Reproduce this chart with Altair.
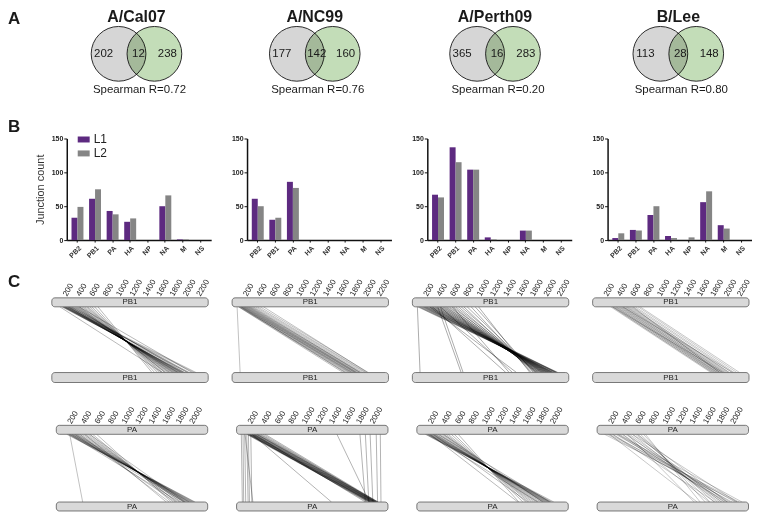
import altair as alt
import pandas as pd

FONT = "Liberation Sans"
PURPLE = "#5d2a80"
GRAY = "#858585"

# ---------------- Panel A: Venn data ----------------
STRAINS = ["A/Cal07", "A/NC99", "A/Perth09", "B/Lee"]
ONLY_L1 = [202, 177, 365, 113]
SHARED = [12, 142, 16, 28]
ONLY_L2 = [238, 160, 283, 148]
SPEARMAN = ["0.72", "0.76", "0.20", "0.80"]

# ---------------- Panel B: junction counts ----------------
SEGMENTS = ["PB2", "PB1", "PA", "HA", "NP", "NA", "M", "NS"]
L1_CAL07 = [33, 61, 43, 27, 0, 50, 1, 0]
L2_CAL07 = [49, 75, 38, 32, 0, 66, 1, 0]
L1_NC99 = [61, 30, 86, 0, 0, 0, 0, 0]
L2_NC99 = [50, 33, 77, 0, 0, 0, 0, 0]
L1_PERTH09 = [67, 137, 104, 4, 0, 14, 0, 0]
L2_PERTH09 = [63, 115, 104, 1, 0, 14, 0, 0]
L1_LEE = [3, 15, 37, 6, 0, 56, 22, 0]
L2_LEE = [10, 14, 50, 3, 4, 72, 17, 0]
L1_COUNTS = [L1_CAL07, L1_NC99, L1_PERTH09, L1_LEE]
L2_COUNTS = [L2_CAL07, L2_NC99, L2_PERTH09, L2_LEE]

# ---------------- Panel C: junction 5'/3' positions (nt) ----------------
PB1_LEN = 2341
PA_LEN = 2233
PB1_TICKS = [200, 400, 600, 800, 1000, 1200, 1400, 1600, 1800, 2000, 2200]
PA_TICKS = [200, 400, 600, 800, 1000, 1200, 1400, 1600, 1800, 2000]

CAL07_PB1_5 = [150, 165, 170, 180, 190, 195, 205, 210, 225, 232, 240, 250, 255, 268, 275, 290, 300, 312,
               330, 345, 360, 375, 390, 405, 420, 450, 470, 495, 520, 540, 570, 600, 640, 690, 120, 410]
CAL07_PB1_3 = [2040, 1985, 2130, 1968, 1960, 2160, 1945, 1940, 1925, 2060, 1910, 1895, 1880, 1890, 2030, 1865, 1850, 1990,
               1835, 1820, 1810, 1790, 1760, 1770, 1740, 1715, 1700, 1690, 1660, 1640, 1610, 1580, 1540, 1500, 1655, 2100]
NC99_PB1_5 = [100, 110, 120, 135, 140, 150, 160, 170, 180, 190, 200, 215, 225, 240, 250, 265, 280, 300,
              320, 350, 380, 420, 470, 75, 95, 130]
NC99_PB1_3 = [1700, 1745, 1720, 1760, 1790, 1775, 1810, 1800, 1840, 1830, 1860, 1850, 1880, 1870, 1900, 1915, 1935, 1920,
              1960, 1990, 2010, 2040, 2030, 120, 1660, 1690]
PERTH09_PB1_5 = [80, 100, 120, 140, 160, 175, 190, 205, 220, 240, 255, 270, 285, 300, 320, 335, 350, 370, 390, 410,
                 430, 450, 470, 490, 510, 535, 560, 590, 620, 650, 690, 730, 770, 820, 880, 940, 990, 300, 420, 600,
                 75, 380, 420, 260]
PERTH09_PB1_3 = [2150, 2170, 2120, 2180, 2100, 2140, 2080, 2160, 2060, 2110, 2040, 2090, 2020, 2070, 2000, 2050, 1980, 2030,
                 1960, 2010, 1940, 1990, 1920, 1970, 1900, 1950, 1880, 1930, 1860, 1900, 1840, 1870, 1810, 1850, 1780,
                 1820, 1760, 1400, 1500, 1450, 115, 730, 760, 1560]
LEE_PB1_5 = [270, 290, 300, 320, 335, 350, 360, 380, 395, 410, 425, 440, 455, 470, 490, 505, 520, 540, 560, 580,
             610, 640, 680, 710, 300, 450, 600]
LEE_PB1_3 = [1770, 1800, 1790, 1830, 1820, 1860, 1845, 1880, 1870, 1900, 1920, 1910, 1950, 1940, 1980, 1970, 2000, 2020,
             2050, 2040, 2090, 2120, 2160, 2200, 1950, 2100, 1900]

CAL07_PA_5 = [154, 169, 184, 198, 213, 228, 242, 257, 272, 286, 301, 316, 345, 375, 404, 433, 463, 492, 536, 595,
              198, 272, 345, 419, 228, 492, 198]
CAL07_PA_3 = [2049, 2020, 2035, 1991, 2005, 1961, 1976, 1946, 1932, 1961, 1902, 1917, 1888, 1873, 1844, 1829, 1785, 1770,
              1726, 1697, 1814, 1755, 1667, 1623, 1888, 1902, 389]
NC99_PA_5 = [150, 160, 170, 180, 190, 200, 210, 220, 230, 240, 250, 260, 275, 290, 300, 320, 340, 360, 390, 420,
             180, 200, 230, 260, 300, 70, 95, 120, 150, 175, 210, 125, 1820, 1900, 1970, 2060, 2120, 1480, 230]
NC99_PA_3 = [1960, 1985, 1975, 2000, 1990, 2010, 2000, 2025, 2015, 2035, 2030, 2045, 2040, 2055, 2050, 2065, 2060, 2075,
             2070, 2085, 1950, 1930, 1970, 1900, 2090, 85, 105, 135, 170, 190, 225, 240, 1900, 1950, 2010, 2080, 2130,
             1960, 1400]
PERTH09_PA_5 = [125, 140, 154, 169, 184, 198, 213, 228, 242, 257, 272, 286, 316, 345, 375, 404, 433, 463, 507, 551,
                610, 169, 242, 316, 389, 198]
PERTH09_PA_3 = [2020, 1976, 1991, 1946, 1961, 1917, 1932, 1888, 1902, 1858, 1873, 1829, 1799, 1770, 1741, 1711, 1682,
                1653, 1608, 1564, 1505, 1785, 1638, 1961, 1858, 1491]
LEE_PA_5 = [110, 154, 184, 228, 272, 301, 331, 375, 419, 448, 477, 521, 566, 595, 639, 683, 712, 375, 228, 521,
            184, 595, 301, 448]
LEE_PA_3 = [2064, 1990, 2093, 1917, 2035, 1888, 1961, 1844, 1932, 1800, 1873, 1770, 1829, 1726, 1667, 1594, 1520, 1653,
            1741, 2064, 1476, 1917, 2137, 1432]

PB1_JUNCTIONS = [(CAL07_PB1_5, CAL07_PB1_3), (NC99_PB1_5, NC99_PB1_3),
                 (PERTH09_PB1_5, PERTH09_PB1_3), (LEE_PB1_5, LEE_PB1_3)]
PA_JUNCTIONS = [(CAL07_PA_5, CAL07_PA_3), (NC99_PA_5, NC99_PA_3),
                (PERTH09_PA_5, PERTH09_PA_3), (LEE_PA_5, LEE_PA_3)]

# ---------------- layout / style (pixels) ----------------
W = 145
COL_GAP = 36
ROW_GAP = 43
H_VENN, H_BAR, H_PB1, H_PA = 87, 102, 100, 86
VENN_CX = [70, 68, 68, 71]
VENN_CY = 45
R = 31
GAP = 36
LETTER_X = -59
PB1_DOMAIN = [223.7, 2385.8]
PA_DOMAIN = [154.3, 2284.5]
PB1_OPACITY = [0.5, 0.45, 0.6, 0.4]
PA_OPACITY = [0.45, 0.55, 0.5, 0.4]


def one_row():
    return alt.Chart(pd.DataFrame({"k": [0]}))


def text_at(s, x, y, size, weight="normal", align="center", baseline="middle"):
    return one_row().mark_text(text=s, fontSize=size, fontWeight=weight, align=align,
                               baseline=baseline, color="#1a1a1a").encode(
        x=alt.value(x), y=alt.value(y))


def letter(s, y):
    return text_at(s, LETTER_X, y, 17, weight="bold", align="left")


def venn_cell(i):
    cx = VENN_CX[i]
    area = 3.14159 * R * R
    gray = one_row().mark_circle(size=area, fill="#d6d6d6", fillOpacity=1, opacity=1,
                                 stroke="#2b2b2b", strokeWidth=1, blend="multiply").encode(
        x=alt.value(cx - GAP / 2), y=alt.value(VENN_CY))
    green = one_row().mark_circle(size=area, fill="#c3ddb8", fillOpacity=1, opacity=1,
                                  stroke="#2b2b2b", strokeWidth=1, blend="multiply").encode(
        x=alt.value(cx + GAP / 2), y=alt.value(VENN_CY))
    layers = [gray, green,
              text_at(STRAINS[i], cx, 13, 16, weight="bold", baseline="alphabetic"),
              text_at(str(ONLY_L1[i]), cx - 33, VENN_CY, 11.5),
              text_at(str(SHARED[i]), cx + 2, VENN_CY, 11.5),
              text_at(str(ONLY_L2[i]), cx + 31, VENN_CY, 11.5),
              text_at("Spearman R=" + SPEARMAN[i], cx + 3, 81, 11.5)]
    if i == 0:
        layers.append(letter("A", 10.5))
    return alt.layer(*layers).properties(width=W, height=H_VENN)


def bar_cell(i):
    df = pd.DataFrame({
        "segment": SEGMENTS + SEGMENTS,
        "line": ["L1"] * len(SEGMENTS) + ["L2"] * len(SEGMENTS),
        "count": L1_COUNTS[i] + L2_COUNTS[i],
    })
    if i == 0:
        legend = alt.Legend(orient="none", legendX=11, legendY=-5, title=None,
                            symbolType="M-1,-0.5H1V0.5H-1Z", symbolSize=144,
                            symbolStrokeWidth=0, labelFontSize=12, labelColor="#222",
                            rowPadding=2, labelOffset=4, padding=0)
        ytitle = "Junction count"
    else:
        legend = None
        ytitle = None
    bars = alt.Chart(df).mark_bar().encode(
        x=alt.X("segment:N", sort=SEGMENTS, title=None,
                scale=alt.Scale(paddingInner=0.32, paddingOuter=0.27),
                axis=alt.Axis(labelAngle=315, labelFontSize=7, labelColor="#333",
                              labelFontWeight="bold", tickSize=2, tickColor="#111",
                              domainColor="#111", domainWidth=1.5, labelPadding=2)),
        xOffset=alt.XOffset("line:N", sort=["L1", "L2"]),
        y=alt.Y("count:Q", scale=alt.Scale(domain=[0, 150]), title=ytitle,
                axis=alt.Axis(values=[0, 50, 100, 150], grid=False, domainColor="#111",
                              domainWidth=1.5, tickColor="#111", tickSize=3,
                              labelFontSize=7, labelFontWeight="bold", labelColor="#222",
                              labelPadding=1, titleFontSize=11, titleFontWeight="normal",
                              titleColor="#333", titlePadding=6)),
        color=alt.Color("line:N", scale=alt.Scale(domain=["L1", "L2"], range=[PURPLE, GRAY]),
                        legend=legend),
    )
    layers = [bars]
    if i == 0:
        layers.append(letter("B", -12))
    return alt.layer(*layers).properties(width=W, height=H_BAR)


def diagram_cell(seg, starts, ends, i):
    if seg == "PB1":
        length, dom, ticks, h = PB1_LEN, PB1_DOMAIN, PB1_TICKS, H_PB1
        t0, t1, b0, b1, ty = 15, 24, 90, 100, 13
        op = PB1_OPACITY[i]
    else:
        length, dom, ticks, h = PA_LEN, PA_DOMAIN, PA_TICKS, H_PA
        t0, t1, b0, b1, ty = 0, 9, 77, 86, -2
        op = PA_OPACITY[i]
    xs = alt.Scale(domain=dom, nice=False, zero=False)
    pairs = pd.DataFrame({"start": starts, "end": ends})
    lines = alt.Chart(pairs).mark_rule(color="#000000", strokeWidth=0.55, opacity=op).encode(
        x=alt.X("start:Q", scale=xs, axis=None), x2="end:Q",
        y=alt.value(t1), y2=alt.value(b0))
    seg_df = pd.DataFrame({"from": [0], "to": [length], "name": [seg], "mid": [length / 2]})
    rect_style = dict(cornerRadius=3, fill="#d9d9d9", stroke="#5a5a5a", strokeWidth=0.8)
    top = alt.Chart(seg_df).mark_rect(**rect_style).encode(
        x=alt.X("from:Q", scale=xs, axis=None), x2="to:Q", y=alt.value(t0), y2=alt.value(t1))
    bottom = alt.Chart(seg_df).mark_rect(**rect_style).encode(
        x=alt.X("from:Q", scale=xs, axis=None), x2="to:Q", y=alt.value(b0), y2=alt.value(b1))
    top_lbl = alt.Chart(seg_df).mark_text(fontSize=8, color="#222", baseline="middle").encode(
        x=alt.X("mid:Q", scale=xs, axis=None), y=alt.value((t0 + t1) / 2), text="name:N")
    bot_lbl = alt.Chart(seg_df).mark_text(fontSize=8, color="#222", baseline="middle").encode(
        x=alt.X("mid:Q", scale=xs, axis=None), y=alt.value((b0 + b1) / 2), text="name:N")
    tick_lbl = alt.Chart(pd.DataFrame({"pos": ticks})).mark_text(
        angle=300, align="left", baseline="middle", fontSize=8, color="#222").encode(
        x=alt.X("pos:Q", scale=xs, axis=None), y=alt.value(ty),
        text=alt.Text("pos:Q", format="d"))
    layers = [lines, top, bottom, top_lbl, bot_lbl, tick_lbl]
    if seg == "PB1" and i == 0:
        layers.append(letter("C", -1))
    return alt.layer(*layers).properties(width=W, height=h)


cells = []
cells += [venn_cell(i) for i in range(4)]
cells += [bar_cell(i) for i in range(4)]
cells += [diagram_cell("PB1", s, e, i) for i, (s, e) in enumerate(PB1_JUNCTIONS)]
cells += [diagram_cell("PA", s, e, i) for i, (s, e) in enumerate(PA_JUNCTIONS)]

chart = alt.concat(
    *cells, columns=4, spacing={"row": ROW_GAP, "column": COL_GAP},
    bounds="flush", align="each",
).resolve_scale(color="independent").resolve_legend(color="independent").properties(
    padding=0
).configure(font=FONT).configure_view(strokeWidth=0)

chart.save("out.html", embed_options={"renderer": "svg", "actions": False})
